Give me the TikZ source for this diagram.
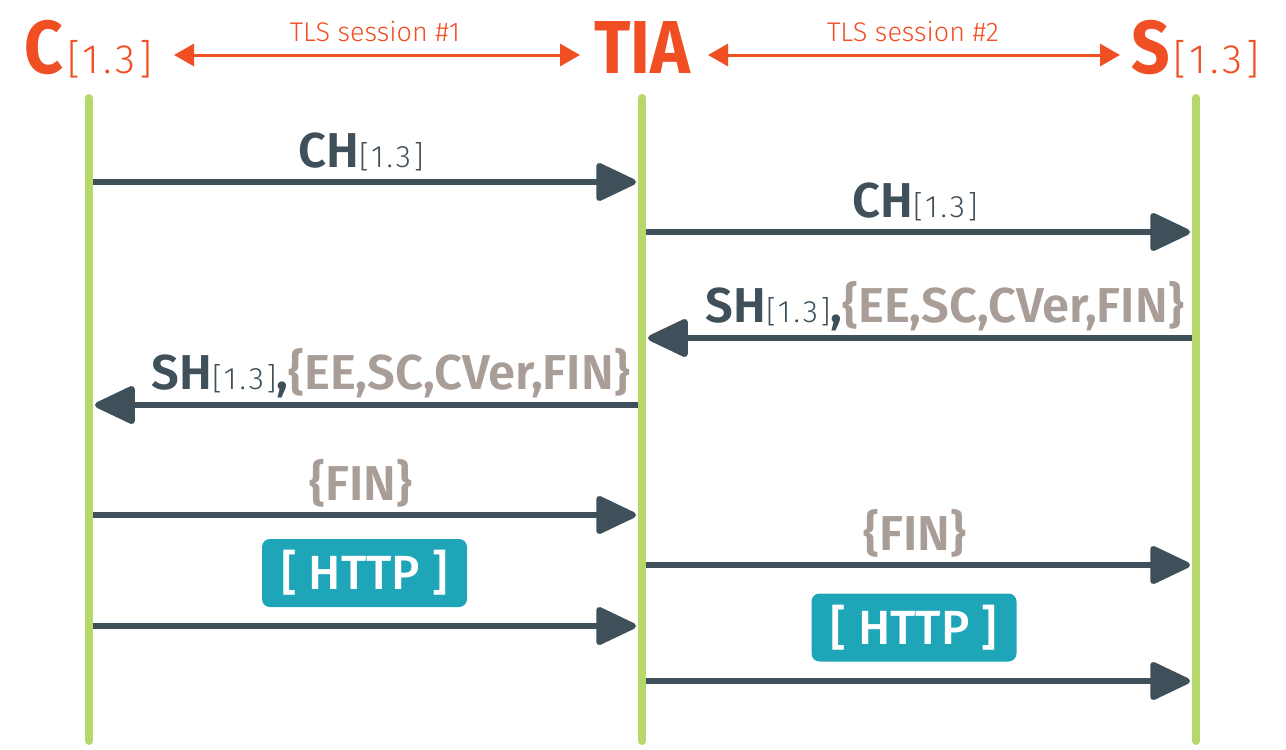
\documentclass[tikz,border=0pt]{standalone}
\usepackage{fontspec}
\setmainfont{Fira Sans}
\newfontfamily\fsemi{Fira Sans SemiBold}
\newfontfamily\fmed{Fira Sans Medium}
\newfontfamily\flight{Fira Sans Light}
\newfontfamily\flightsp[LetterSpace=9]{Fira Sans Light}
\newfontfamily\ftitle[FakeStretch=0.9]{Fira Sans Bold}
\usetikzlibrary{arrows.meta}
\definecolor{orng}{HTML}{F04E23}
\definecolor{slate}{HTML}{3F505B}
\definecolor{taupe}{HTML}{A89E97}
\definecolor{lgreen}{HTML}{B6D86B}
\definecolor{teal}{HTML}{1EA6B8}
\newcommand\vlab[1]{{\flightsp\fontsize{31}{31}\selectfont #1}}
\newcommand\enc[1]{{\color{taupe}#1}}
\tikzset{
  lifeline/.style={draw=lgreen, line width=8pt, line cap=round},
  msg/.style={draw=slate, line width=6pt, -{Triangle[length=44pt,width=40pt,round]}, shorten >=2pt},
  tls/.style={draw=orng, line width=3pt, {Triangle[length=20pt,width=22pt]}-{Triangle[length=20pt,width=22pt]}},
  lbl/.style={anchor=base, inner sep=0pt, text=slate, font=\fsemi\fontsize{49}{49}\selectfont},
  actor/.style={anchor=base west, inner sep=0pt, text=orng},
  tlslbl/.style={anchor=base, inner sep=0pt, text=orng, font=\flight\fontsize{27}{27}\selectfont},
  httpbox/.style={fill=teal, rounded corners=8pt, minimum width=205pt, minimum height=68pt, inner sep=0pt, text=white, font=\fmed\fontsize{48}{48}\selectfont}
}
\begin{document}
\begin{tikzpicture}[x=1pt,y=-1pt]
\useasboundingbox (0,0) rectangle (1286,750);
% actors
\node[actor] (C) at (24,73) {\ftitle\fontsize{75}{75}\selectfont C\kern4pt{\flightsp\fontsize{41}{41}\selectfont[1.3]}};
\node[actor] (T) at (594,73) {\ftitle\fontsize{75}{75}\selectfont TIA};
\node[actor] (S) at (1131,73) {\ftitle\fontsize{75}{75}\selectfont S\kern4pt{\flightsp\fontsize{41}{41}\selectfont[1.3]}};
% TLS sessions
\coordinate (t1a) at (174,55); \coordinate (t1b) at (580,55);
\coordinate (t2a) at (708,55); \coordinate (t2b) at (1120,55);
\draw[tls] (t1a) -- (t1b);
\draw[tls] (t2a) -- (t2b);
\node[tlslbl] (s1) at (375,41) {TLS session \#1};
\node[tlslbl] (s2) at (913,41) {TLS session \#2};
% lifelines
\coordinate (Ct) at (89,98); \coordinate (Cb) at (89,741);
\coordinate (Tt) at (642,98); \coordinate (Tb) at (642,741);
\coordinate (St) at (1196,98); \coordinate (Sb) at (1196,741);
\draw[lifeline] (Ct) -- (Cb);
\draw[lifeline] (Tt) -- (Tb);
\draw[lifeline] (St) -- (Sb);
% message end points
\coordinate (c1) at (93,182); \coordinate (t1) at (638,182);
\coordinate (t2) at (646,232); \coordinate (s2p) at (1192,232);
\coordinate (s3) at (1192,338); \coordinate (t3) at (646,338);
\coordinate (t4) at (638,405); \coordinate (c4) at (93,405);
\coordinate (c5) at (93,515); \coordinate (t5) at (638,515);
\coordinate (t6) at (646,565); \coordinate (s6) at (1192,565);
\coordinate (c7) at (93,626); \coordinate (t7) at (638,626);
\coordinate (t8) at (646,681); \coordinate (s8) at (1192,681);
\draw[msg] (c1) -- (t1);
\draw[msg] (t2) -- (s2p);
\draw[msg] (s3) -- (t3);
\draw[msg] (t4) -- (c4);
\draw[msg] (c5) -- (t5);
\draw[msg] (t6) -- (s6);
\draw[msg] (c7) -- (t7);
\draw[msg] (t8) -- (s8);
% labels
\node[lbl] (L1) at (361,167) {CH\vlab{[1.3]}};
\node[lbl] (L2) at (915,217) {CH\vlab{[1.3]}};
\node[lbl, anchor=base east] (L3) at (1184,322) {SH\vlab{[1.3]},\enc{\{EE,SC,CVer,FIN\}}};
\node[lbl, anchor=base east] (L4) at (630,389) {SH\vlab{[1.3]},\enc{\{EE,SC,CVer,FIN\}}};
\node[lbl] (L5) at (361,500) {\enc{\{FIN\}}};
\node[lbl] (L6) at (915,550) {\enc{\{FIN\}}};
\node[httpbox] (H1) at (364.5,573) {[ HTTP ]};
\node[httpbox] (H2) at (914,627.5) {[ HTTP ]};
\end{tikzpicture}
\end{document}
